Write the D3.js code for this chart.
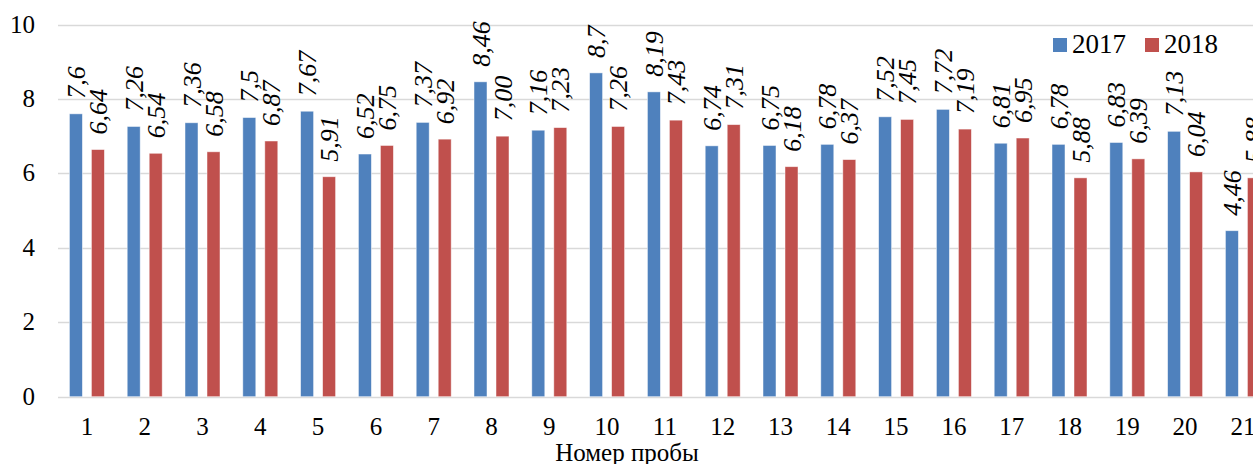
<!DOCTYPE html>
<html><head><meta charset="utf-8">
<script src="https://cdn.jsdelivr.net/npm/d3@7"></script>
<style>body{margin:0;background:#fff}svg{display:block}text{font-family:"Liberation Serif","Times New Roman",serif;fill:#000}</style>
</head><body>
<div id="chart"></div>
<script>
const categories = ["1","2","3","4","5","6","7","8","9","10","11","12","13","14","15","16","17","18","19","20","21"];
const seriesNames = ["2017","2018"];
const values2017 = [7.6,7.26,7.36,7.5,7.67,6.52,7.37,8.46,7.16,8.7,8.19,6.74,6.75,6.78,7.52,7.72,6.81,6.78,6.83,7.13,4.46];
const values2018 = [6.64,6.54,6.58,6.87,5.91,6.75,6.92,7.00,7.23,7.26,7.43,7.31,6.18,6.37,7.45,7.19,6.95,5.88,6.39,6.04,5.88];
const yTicks = [0,2,4,6,8,10];
const xTitle = "Номер пробы";

const W = 1253, H = 464;
const colors = ["#4F81BD","#C0504D"];
const svg = d3.select("#chart").append("svg").attr("width",W).attr("height",H);

const x = d3.scaleBand().domain(categories).range([58, 58 + 21*57.8]).paddingInner(0).paddingOuter(0);
const y = d3.scaleLinear().domain([0,10]).range([396.7, 24.5]);
const barW = 13, innerGap = 9;

// gridlines
svg.append("g").selectAll("line").data(yTicks).join("line")
  .attr("x1",58).attr("x2",W).attr("y1",d=>Math.round(y(d))+0.5).attr("y2",d=>Math.round(y(d))+0.5)
  .attr("stroke","#d9d9d9").attr("stroke-width",1.3);

// y axis labels
svg.append("g").selectAll("text").data(yTicks).join("text")
  .attr("x",35).attr("y",d=>y(d)+8).attr("text-anchor","end").attr("font-size",25).text(d=>d);

const series = [values2017, values2018];
const fmt = [v=>String(v).replace(".",","), v=>v.toFixed(2).replace(".",",")];
series.forEach((vals,si)=>{
  const off = x.bandwidth()/2 - barW - innerGap/2 + si*(barW+innerGap);
  const g = svg.append("g");
  g.selectAll("rect").data(vals).join("rect")
    .attr("x",(d,i)=>x(categories[i])+off).attr("width",barW)
    .attr("y",d=>y(d)).attr("height",d=>y(0)-y(d))
    .attr("fill",colors[si]).attr("stroke","#ffffff").attr("stroke-opacity",0.6).attr("stroke-width",0.8);
  g.selectAll("text").data(vals).join("text")
    .attr("transform",(d,i)=>`translate(${x(categories[i])+off+barW/2+9},${y(d)-15}) rotate(-90)`)
    .attr("font-size",26).attr("font-style","italic").attr("text-anchor","start")
    .text(d=>fmt[si](d));
});

// x labels
svg.append("g").selectAll("text").data(categories).join("text")
  .attr("x",d=>x(d)+x.bandwidth()/2).attr("y",435).attr("text-anchor","middle").attr("font-size",25).text(d=>d);

svg.append("text").attr("x",627).attr("y",461).attr("text-anchor","middle").attr("font-size",25).text(xTitle);

// legend
const leg = svg.append("g");
const legX = [1053,1145];
seriesNames.forEach((n,i)=>{
  leg.append("rect").attr("x",legX[i]).attr("y",38).attr("width",14).attr("height",14).attr("fill",colors[i]);
  leg.append("text").attr("x",legX[i]+19).attr("y",53).attr("font-size",27).text(n);
});
</script>
</body></html>
